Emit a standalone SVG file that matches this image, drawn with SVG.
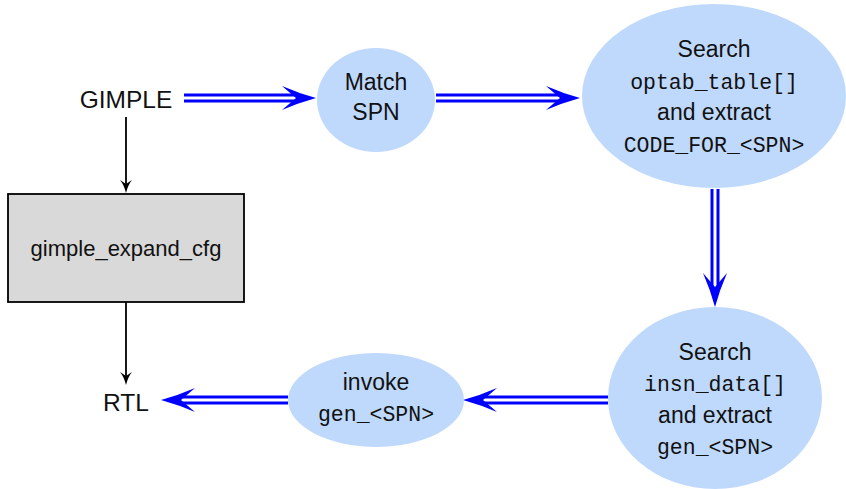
<svg xmlns="http://www.w3.org/2000/svg" width="846" height="489" viewBox="0 0 846 489">
  <defs>
    <style>
      .sans { font-family: "Liberation Sans", Arial, sans-serif; font-size: 23px; fill: #111; }
      .mono { font-family: "Liberation Mono", "DejaVu Sans Mono", monospace; font-size: 21.5px; fill: #111; }
      .blob { fill: #bfd9fc; }
      .dbl { stroke: #0000ff; stroke-width: 3; fill: none; }
      .thin { stroke: #000; stroke-width: 1.8; fill: none; }
      .bhead { fill: #0000ff; }
    </style>
    <!-- blue arrowhead pointing right, tip at origin -->
    <path id="bluehead" d="M0,0 Q-18,-5 -34,-12 L-20,0 L-34,12 Q-18,5 0,0 Z"/>
    <!-- black arrowhead pointing down, tip at origin -->
    <path id="blackhead" d="M0,0 Q-2,-8 -6,-13 L0,-9 L6,-13 Q2,-8 0,0 Z"/>
  </defs>

  <g id="connectors">
    <!-- GIMPLE -> Match SPN -->
    <line class="dbl" x1="184" y1="95" x2="298" y2="95"/>
    <line class="dbl" x1="184" y1="101" x2="298" y2="101"/>
    <use href="#bluehead" class="bhead" transform="translate(316,98)"/>
    <!-- Match SPN -> Search optab_table -->
    <line class="dbl" x1="436" y1="95" x2="562" y2="95"/>
    <line class="dbl" x1="436" y1="101" x2="562" y2="101"/>
    <use href="#bluehead" class="bhead" transform="translate(580,98)"/>
    <!-- Search optab_table -> Search insn_data -->
    <line class="dbl" x1="712" y1="189" x2="712" y2="290"/>
    <line class="dbl" x1="718" y1="189" x2="718" y2="290"/>
    <use href="#bluehead" class="bhead" transform="translate(715,307) rotate(90)"/>
    <!-- Search insn_data -> invoke -->
    <line class="dbl" x1="608" y1="397" x2="482" y2="397"/>
    <line class="dbl" x1="608" y1="403" x2="482" y2="403"/>
    <use href="#bluehead" class="bhead" transform="translate(463,400) rotate(180)"/>
    <!-- invoke -> RTL -->
    <line class="dbl" x1="288" y1="397" x2="180" y2="397"/>
    <line class="dbl" x1="288" y1="403" x2="180" y2="403"/>
    <use href="#bluehead" class="bhead" transform="translate(161,400) rotate(180)"/>
    <!-- GIMPLE -> gimple_expand_cfg -->
    <line class="thin" x1="126" y1="117" x2="126" y2="188"/>
    <use href="#blackhead" transform="translate(126,193)"/>
    <!-- gimple_expand_cfg -> RTL -->
    <line class="thin" x1="126" y1="302" x2="126" y2="380"/>
    <use href="#blackhead" transform="translate(126,385)"/>
  </g>

  <g id="gimple">
    <text class="sans" x="126" y="108" text-anchor="middle" style="font-size:24.5px">GIMPLE</text>
  </g>

  <g id="match-spn">
    <ellipse class="blob" cx="376" cy="100" rx="59" ry="52"/>
    <text class="sans" x="376" y="90" text-anchor="middle">Match</text>
    <text class="sans" x="376" y="120" text-anchor="middle">SPN</text>
  </g>

  <g id="search-optab">
    <ellipse class="blob" cx="714" cy="96" rx="132" ry="92"/>
    <text class="sans" x="714" y="57" text-anchor="middle">Search</text>
    <text class="mono" x="714" y="89" text-anchor="middle">optab_table[]</text>
    <text class="sans" x="714" y="120" text-anchor="middle">and extract</text>
    <text class="mono" x="714" y="152" text-anchor="middle">CODE_FOR_&lt;SPN&gt;</text>
  </g>

  <g id="gimple-expand-cfg">
    <rect x="8" y="194" width="236" height="108" fill="#d9d9d9" stroke="#000" stroke-width="1.8"/>
    <text class="sans" x="126" y="256" text-anchor="middle" style="font-size:22px">gimple_expand_cfg</text>
  </g>

  <g id="search-insn">
    <ellipse class="blob" cx="715" cy="398" rx="107" ry="91"/>
    <text class="sans" x="715" y="360" text-anchor="middle">Search</text>
    <text class="mono" x="715" y="391" text-anchor="middle">insn_data[]</text>
    <text class="sans" x="715" y="423" text-anchor="middle">and extract</text>
    <text class="mono" x="715" y="454" text-anchor="middle">gen_&lt;SPN&gt;</text>
  </g>

  <g id="invoke-gen">
    <ellipse class="blob" cx="376" cy="400" rx="88" ry="47"/>
    <text class="sans" x="376" y="390" text-anchor="middle">invoke</text>
    <text class="mono" x="376" y="421" text-anchor="middle">gen_&lt;SPN&gt;</text>
  </g>

  <g id="rtl">
    <text class="sans" x="126" y="411" text-anchor="middle" style="font-size:24.5px">RTL</text>
  </g>
</svg>
